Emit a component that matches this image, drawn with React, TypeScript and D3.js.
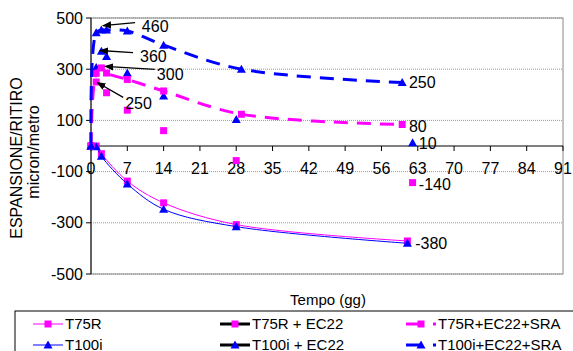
import React, { FC, useMemo } from 'react'
import * as d3 from 'd3'

// giorni e valori
const daysBase = [0, 1, 2, 7, 14, 28, 61]
const t75r = [0, 0, -30, -137, -222, -307, -371]
const t100i = [0, -3, -40, -148, -247, -315, -380]

const daysEc22R = [0, 1, 3, 7, 14, 28, 62]
const t75rEc22 = [0, 250, 208, 140, 60, -57, -143]
const daysEc22I = [0, 1, 2, 3, 7, 14, 28, 62]
const t100iEc22 = [0, 307, 370, 350, 285, 195, 104, 13]

const daysSra = [0, 1, 2, 3, 7, 14, 29, 60]
const t75rSra = [0, 284, 305, 285, 260, 215, 124, 84]
const t100iSra = [0, 442, 453, 453, 449, 394, 300, 248]

const xTicks = d3.range(0, 92, 7)
const yTicks = [-500, -300, -100, 100, 300, 500]

// etichette con freccia: punta e testo in unità del grafico
const arrowNotes = [
	{ text: '460', tip: [2.3, 470], tail: [8.5, 482], at: [9.8, 467] },
	{ text: '360', tip: [1.7, 373], tail: [8.1, 365], at: [9.45, 350] },
	{ text: '300', tip: [2.7, 311], tail: [12.3, 299], at: [12.7, 279] },
	{ text: '250', tip: [1.2, 248], tail: [6.2, 190], at: [6.6, 166] }
]
const endNotes = [
	{ text: '250', at: [61.3, 248] },
	{ text: '80', at: [61.3, 76] },
	{ text: '10', at: [63.2, 10] },
	{ text: '-140', at: [63.2, -151] },
	{ text: '-380', at: [62.5, -381] }
]

const MAG = '#FF00FF'
const BLU = '#0000FF'

interface ISeries {
	name: string
	days: number[]
	values: number[]
	color: string
	shape: 'square' | 'triangle'
	line: 'solid' | 'dashed' | 'none'
}

const series: ISeries[] = [
	{ name: 'T75R', days: daysBase, values: t75r, color: MAG, shape: 'square', line: 'solid' },
	{ name: 'T100i', days: daysBase, values: t100i, color: BLU, shape: 'triangle', line: 'solid' },
	{ name: 'T75R + EC22', days: daysEc22R, values: t75rEc22, color: MAG, shape: 'square', line: 'none' },
	{ name: 'T100i + EC22', days: daysEc22I, values: t100iEc22, color: BLU, shape: 'triangle', line: 'none' },
	{ name: 'T75R+EC22+SRA', days: daysSra, values: t75rSra, color: MAG, shape: 'square', line: 'dashed' },
	{ name: 'T100i+EC22+SRA', days: daysSra, values: t100iSra, color: BLU, shape: 'triangle', line: 'dashed' }
]

const FONT = '"Liberation Sans", Arial, sans-serif'

const Marker: FC<{ x: number; y: number; shape: string; color: string }> = ({ x, y, shape, color }) => {
	if (shape === 'square') {
		return <rect x={x - 3.5} y={y - 3.5} width={7} height={7} fill={color} />
	}
	return <path d={`M${x},${y - 4.5}L${x + 4.5},${y + 3.5}L${x - 4.5},${y + 3.5}Z`} fill={color} />
}

const App: FC = () => {
	const width = 573
	const height = 351
	const left = 91
	const right = 563
	const top = 18
	const bottom = 274

	const x = useMemo(() => d3.scaleLinear().domain([0, 91]).range([left, right]), [])
	const y = useMemo(() => d3.scaleLinear().domain([-500, 500]).range([bottom, top]), [])

	const lineGen = d3
		.line<[number, number]>()
		.x(d => x(d[0]))
		.y(d => y(d[1]))
		.curve(d3.curveCatmullRom.alpha(0.5))

	const legendCols = [33, 220, 406]
	const legendRows = [324, 345]

	return (
		<svg width={width} height={height} style={{ position: 'absolute', left: 0, top: 0, background: '#fff' }} fontFamily={FONT}>
			<defs>
				<marker id="arr" viewBox="0 0 10 10" refX="9" refY="5" markerWidth="7" markerHeight="7" orient="auto">
					<path d="M0,1L10,5L0,9Z" fill="#000" />
				</marker>
			</defs>

			{/* griglia */}
			{yTicks.map(t => (
				<line key={t} x1={left} x2={right} y1={y(t)} y2={y(t)} stroke="#999" strokeDasharray="1,1" />
			))}
			<rect x={left} y={top} width={right - left} height={bottom - top} fill="none" stroke="#888" />

			{/* asse y */}
			<line x1={left} x2={left} y1={top} y2={bottom} stroke="#000" />
			{yTicks.map(t => (
				<g key={t}>
					<line x1={left - 5} x2={left} y1={y(t)} y2={y(t)} stroke="#000" />
					<text x={left - 8} y={y(t)} dy="0.35em" textAnchor="end" fontSize={16}>
						{t}
					</text>
				</g>
			))}

			{/* asse x sullo zero */}
			<line x1={left} x2={right} y1={y(0)} y2={y(0)} stroke="#000" />
			{xTicks.map(t => (
				<g key={t}>
					<line x1={x(t)} x2={x(t)} y1={y(0)} y2={y(0) + 5} stroke="#000" />
					<text x={x(t)} y={y(0) + 22} dy="0.35em" textAnchor="middle" fontSize={16}>
						{t}
					</text>
				</g>
			))}

			{/* serie */}
			{series.map(s => {
				const pts = s.days.map((d, i) => [d, s.values[i]] as [number, number])
				return (
					<g key={s.name}>
						{s.line !== 'none' && (
							<path
								d={lineGen(pts) || ''}
								fill="none"
								stroke={s.color}
								strokeWidth={s.line === 'dashed' ? 3 : 1}
								strokeDasharray={s.line === 'dashed' ? '14,9' : undefined}
							/>
						)}
						{pts.map((p, i) => (
							<Marker key={i} x={x(p[0])} y={y(p[1])} shape={s.shape} color={s.color} />
						))}
					</g>
				)
			})}

			{/* annotazioni */}
			{arrowNotes.map(n => (
				<g key={n.text + n.tip[1]}>
					<line
						x1={x(n.tail[0])}
						y1={y(n.tail[1])}
						x2={x(n.tip[0])}
						y2={y(n.tip[1])}
						stroke="#000"
						strokeWidth={1.3}
						markerEnd="url(#arr)"
					/>
					<text x={x(n.at[0])} y={y(n.at[1])} dy="0.35em" fontSize={16}>
						{n.text}
					</text>
				</g>
			))}
			{endNotes.map(n => (
				<text key={n.text} x={x(n.at[0])} y={y(n.at[1])} dy="0.35em" fontSize={16}>
					{n.text}
				</text>
			))}

			{/* titoli */}
			<text transform="translate(22,158) rotate(-90)" textAnchor="middle" fontSize={16}>
				ESPANSIONE/RITIRO
			</text>
			<text transform="translate(39,152) rotate(-90)" textAnchor="middle" fontSize={16}>
				micron/metro
			</text>
			<text x={328} y={300} dy="0.35em" textAnchor="middle" fontSize={15}>
				Tempo (gg)
			</text>

			{/* legenda */}
			<rect x={15} y={311} width={570} height={60} fill="#fff" stroke="#000" />
			{series.map((s, i) => {
				const col = Math.floor(i / 2)
				const row = i % 2
				const lx = legendCols[col]
				const ly = legendRows[row]
				const lineColor = s.line === 'none' ? '#000' : s.color
				return (
					<g key={s.name}>
						<line
							x1={lx}
							x2={lx + 30}
							y1={ly}
							y2={ly}
							stroke={lineColor}
							strokeWidth={s.line === 'solid' ? 1 : 3}
							strokeDasharray={s.line === 'dashed' ? '16,11' : undefined}
						/>
						<Marker x={lx + 15} y={ly} shape={s.shape} color={s.color} />
						<text x={lx + 32} y={ly} dy="0.35em" fontSize={15}>
							{s.name}
						</text>
					</g>
				)
			})}
		</svg>
	)
}

export default App
